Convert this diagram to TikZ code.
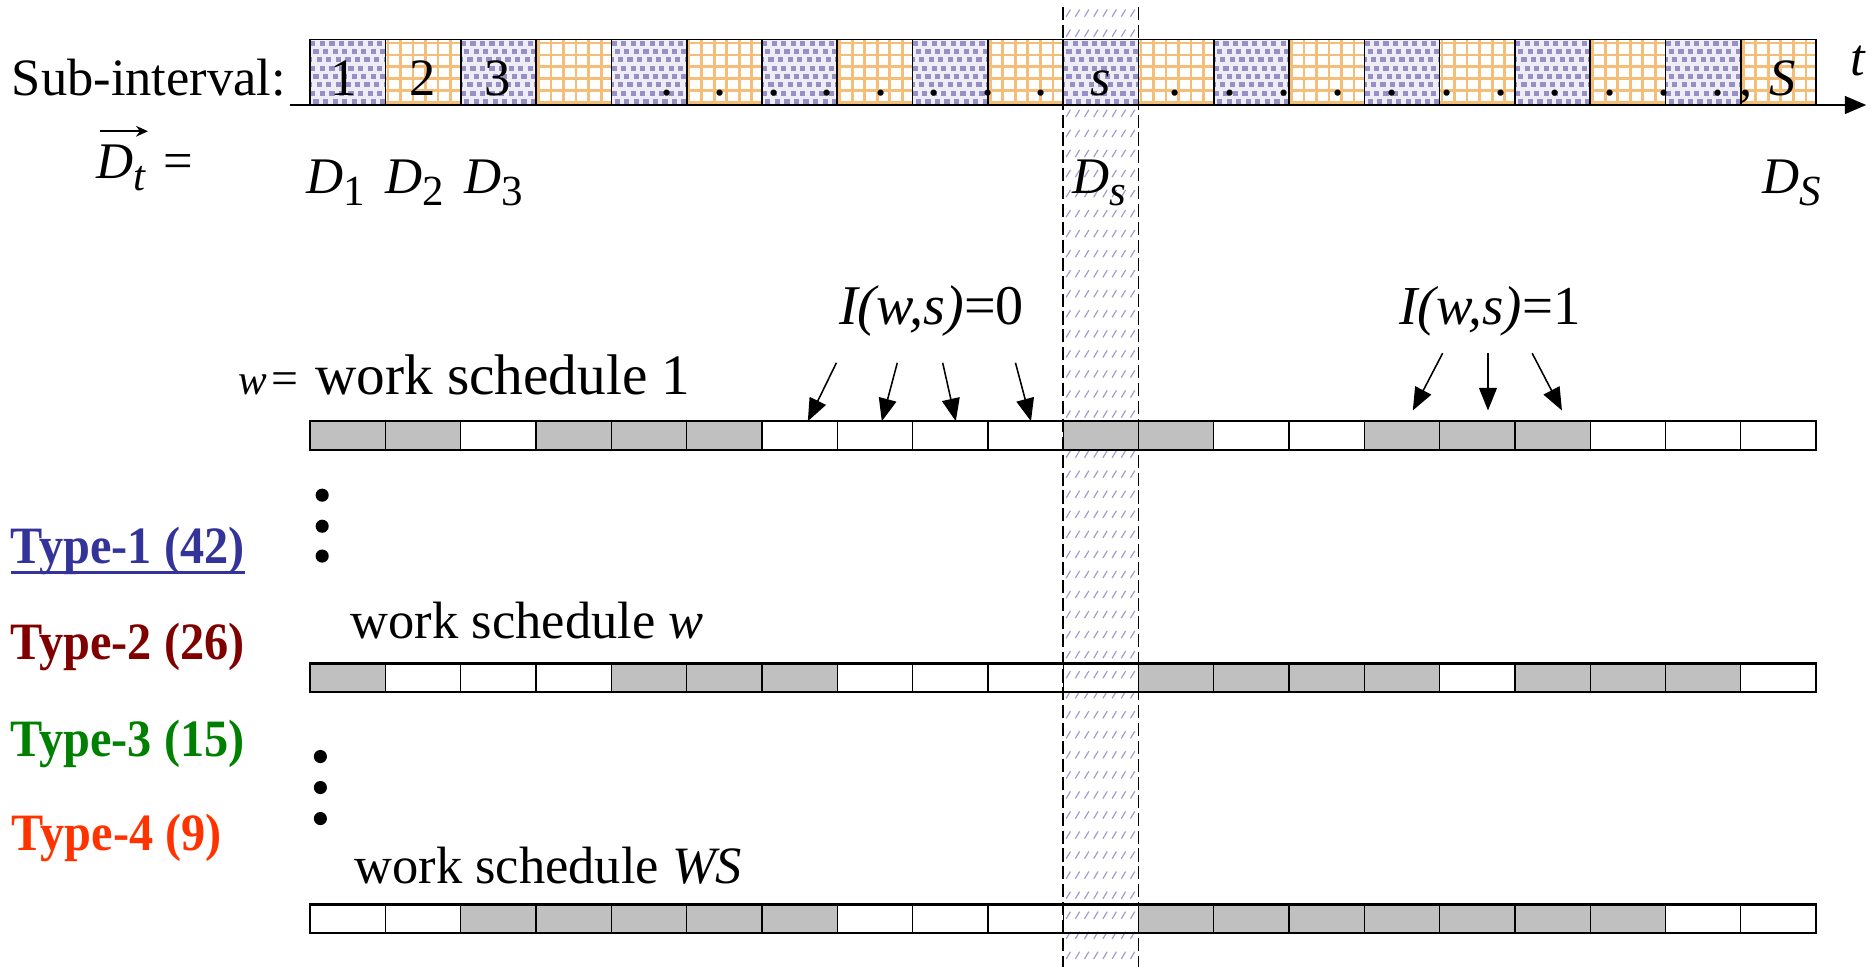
\documentclass[tikz,border=0pt]{standalone}
\usepackage{fontspec}
\setmainfont{Liberation Serif}
\usetikzlibrary{arrows.meta}
\definecolor{grayfill}{HTML}{C0C0C0}
\definecolor{lavdot}{HTML}{9890C4}
\definecolor{lavbg}{HTML}{EEEDF6}
\definecolor{orgrid}{HTML}{F5BE78}
\definecolor{hatchc}{HTML}{A29CCE}
\definecolor{typeone}{HTML}{333399}
\definecolor{typetwo}{HTML}{800000}
\definecolor{typethree}{HTML}{008000}
\definecolor{typefour}{HTML}{FF3300}
\newcommand{\myfs}[1]{\fontsize{#1pt}{#1pt}\selectfont}
\newcommand{\cw}{63.1}
\newcommand{\wsbar}[2]{%
  \foreach \g in {#2} {\fill[grayfill] ({260+(\g-1)*\cw},#1) rectangle ++(\cw,24);}
  \foreach \i in {1,...,19} {\draw[line width=1.1] ({260+\i*\cw},#1) -- ++(0,24);}
  \draw[line width=1.8] (260,#1) rectangle (1522,{#1+24});
}
\newcommand{\condensed}[1]{\scalebox{0.92}[1]{#1}}
\begin{document}
\begin{tikzpicture}[x=1pt,y=-1pt,
  txt/.style={inner sep=0pt, outer sep=0pt, font=\myfs{44}},
  dlab/.style={inner sep=0pt, outer sep=0pt, font=\myfs{43}, anchor=base west},
  typelab/.style={inner sep=0pt, outer sep=0pt, font=\myfs{44}\bfseries, anchor=base west},
  arr/.style={line width=1.3, -{Triangle[length=19pt,width=15pt]}},
  vdot/.style={fill=black}]
\useasboundingbox (0,0) rectangle (1568,810);
\fill[white] (0,0) rectangle (1568,810);
% hatched band
\foreach \r in {0,...,47} {\foreach \c in {0,...,7} {
  \draw[hatchc, line width=1.0] ({893.5+\c*7.7},{14+\r*16.8}) -- ++(3.6,-6);}}
\draw[line width=1.2, dash pattern=on 11pt off 4pt] (891,6) -- (891,810);
\draw[line width=1.2, dash pattern=on 11pt off 4pt] (954.1,6) -- (954.1,810);
% top bar
\foreach \i in {0,...,19} {
  \pgfmathsetmacro\xa{260+\i*\cw}
  \pgfmathsetmacro\xb{260+(\i+1)*\cw}
  \ifodd\i
    \begin{scope}
      \clip (\xa,33) rectangle (\xb,88);
      \fill[white] (\xa,33) rectangle (\xb,88);
      \foreach \k in {0,...,6} {\draw[orgrid, line width=2.3] ({\xa+2+\k*10.5},33) -- ++(0,55);}
      \foreach \k in {0,...,5} {\draw[orgrid, line width=2.3] (\xa,{36+\k*10}) -- ++(\cw,0);}
    \end{scope}
  \else
    \begin{scope}
      \clip (\xa,33) rectangle (\xb,88);
      \fill[lavbg] (\xa,33) rectangle (\xb,88);
      \foreach \r in {0,...,8} {\foreach \c in {-1,...,8} {
        \fill[lavdot] ({\xa+\c*8+mod(\r,3)*2.7},{34+\r*7}) rectangle ++(4.4,4.2);}}
    \end{scope}
  \fi
  \draw[line width=1.4] (\xa,33) rectangle (\xb,88);
}
% axis
\coordinate (axs) at (243,88);
\coordinate (axe) at (1564,88);
\draw[line width=1.6, -{Triangle[length=18pt,width=15pt]}] (axs) -- (axe);
\node[txt, anchor=base] (tlab) at (1557,63) {\textit{t}};
\node[txt, anchor=base west] (subint) at (10,80) {Sub-interval:};
\node[txt, anchor=base] (c1) at (288,80) {1};
\node[txt, anchor=base] (c2) at (354,80) {2};
\node[txt, anchor=base] (c3) at (417,80) {3};
\foreach \k in {0,...,7} {\node[txt, anchor=base] at ({559+\k*44.8},80) {.};}
\node[txt, anchor=base] (cs) at (922.5,80) {\textit{s}};
\foreach \k in {0,...,10} {\node[txt, anchor=base] at ({985+\k*45.5},80) {.};}
\node[txt, anchor=base] (comma) at (1463,80) {,};
\node[txt, anchor=base] (cS) at (1494,80) {\textit{S}};
% D labels
\node[dlab] (dt) at (81,150) {\textit{D}\raisebox{-10pt}{\myfs{36}\textit{t}}\hspace{14pt}{\myfs{44}=}};
\coordinate (vs) at (84,110);
\coordinate (ve) at (124,110);
\draw[line width=1.5, -{Stealth[length=10pt,width=9pt]}] (vs) -- (ve);
\node[dlab] (d1) at (257,162) {\textit{D}\raisebox{-10pt}{\myfs{36}1}};
\node[dlab] (d2) at (323,162) {\textit{D}\raisebox{-10pt}{\myfs{36}2}};
\node[dlab] (d3) at (389,162) {\textit{D}\raisebox{-10pt}{\myfs{36}3}};
\node[dlab] (ds) at (899,162) {\textit{D}\raisebox{-10pt}{\myfs{36}\textit{s}}};
\node[dlab] (dS) at (1477,162) {\textit{D}\raisebox{-10pt}{\myfs{36}\textit{S}}};
% schedule labels
\node[txt, font=\myfs{36}, anchor=base west] (w1a) at (200,331) {\textit{w}};
\node[txt, font=\myfs{40}, anchor=base] (w1b) at (239,331) {=};
\node[txt, font=\myfs{48}, anchor=base west] (w1c) at (264,331) {work schedule 1};
\node[txt, anchor=base west] (w2) at (294,535) {work schedule \textit{w}};
\node[txt, anchor=base west] (w3) at (297,740) {work schedule \textit{WS}};
\node[txt, font=\myfs{47}, anchor=base east] (i0) at (858,272) {\textit{I(w,s)}=0};
\node[txt, font=\myfs{46}, anchor=base west] (i1) at (1173,272) {\textit{I(w,s)}=1};
% bars
\wsbar{353}{1,2,4,5,6,11,12,15,16,17}
\wsbar{556}{1,5,6,7,12,13,14,15,17,18,19}
\wsbar{758}{3,4,5,6,7,12,13,14,15,16,17,18}
% arrows
\coordinate (a1s) at (701,304); \coordinate (a1e) at (677,353);
\coordinate (a2s) at (752,304); \coordinate (a2e) at (739,353);
\coordinate (a3s) at (790,304); \coordinate (a3e) at (801,353);
\coordinate (a4s) at (851,304); \coordinate (a4e) at (864,353);
\coordinate (b1s) at (1209,296); \coordinate (b1e) at (1184,344);
\coordinate (b2s) at (1247,296); \coordinate (b2e) at (1247,344);
\coordinate (b3s) at (1284,296); \coordinate (b3e) at (1309,344);
\foreach \p in {a1,a2,a3,a4,b1,b2,b3} {\draw[arr] (\p s) -- (\p e);}
% vertical dots
\foreach \yy in {415,441,466} {\fill[vdot] (270,\yy) circle (5.5pt);}
\foreach \yy in {634,660,686} {\fill[vdot] (268.5,\yy) circle (5.5pt);}
% types
\node[typelab, text=typeone] (t1) at (9,472) {\condensed{Type-1 (42)}};
\draw[typeone, line width=2.8] ([yshift=-8pt]t1.base west) -- ([yshift=-8pt]t1.base east);
\node[typelab, text=typetwo] (t2) at (9,553) {\condensed{Type-2 (26)}};
\node[typelab, text=typethree] (t3) at (9,634) {\condensed{Type-3 (15)}};
\node[typelab, text=typefour] (t4) at (10,713) {\condensed{Type-4 (9)}};
\end{tikzpicture}
\end{document}
